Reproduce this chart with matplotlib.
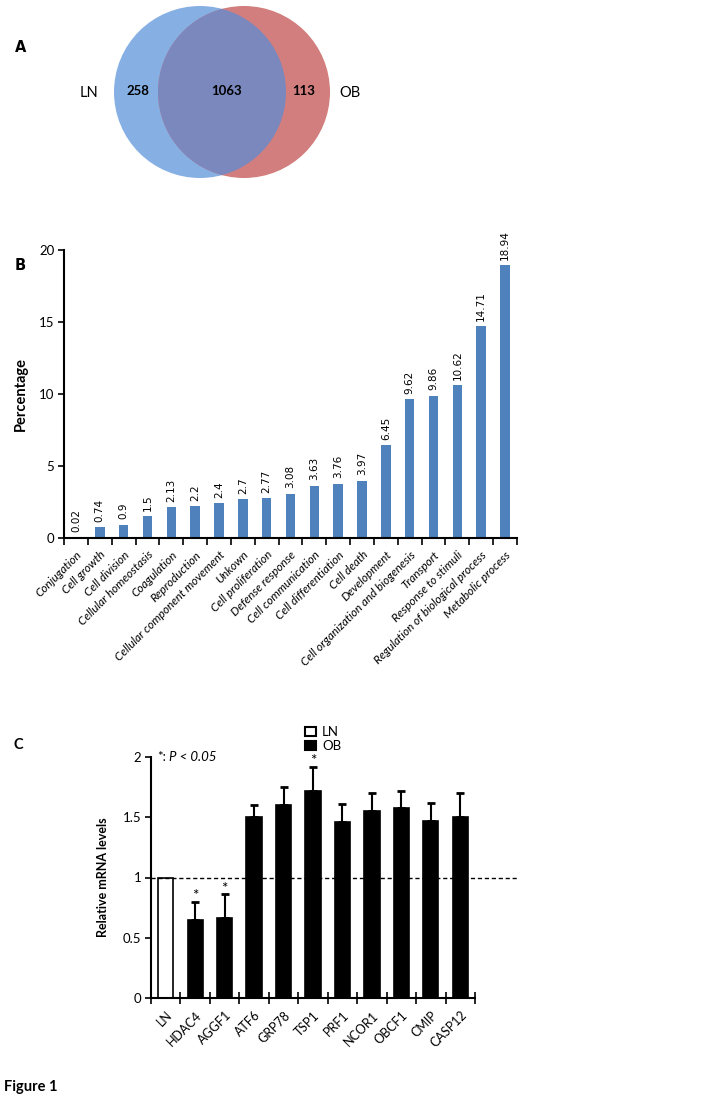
#!/usr/bin/env python3
"""
Figure 1: Venn diagram (A), GO categories (B) and qPCR validation (C)
"""

import numpy as np
import matplotlib
matplotlib.use('Agg')
import matplotlib.pyplot as plt
from matplotlib.patches import Circle, Rectangle

plt.rcParams['font.family'] = ['Lato', 'DejaVu Sans']

W, H = 717, 1102

# ---- data ----
venn_sets = ['LN', 'OB']
venn_counts = [258, 1063, 113]  # LN only, both, OB only

go_categories = ['Conjugation', 'Cell growth', 'Cell division', 'Cellular homeostasis',
                 'Coagulation', 'Reproduction', 'Cellular component movement', 'Unkown',
                 'Cell proliferation', 'Defense response', 'Cell communication',
                 'Cell differentiation', 'Cell death', 'Development',
                 'Cell organization and biogenesis', 'Transport', 'Response to stimuli',
                 'Regulation of biological process', 'Metabolic process']
go_percent = [0.02, 0.74, 0.9, 1.5, 2.13, 2.2, 2.4, 2.7, 2.77, 3.08, 3.63, 3.76,
              3.97, 6.45, 9.62, 9.86, 10.62, 14.71, 18.94]
go_ticks = [0, 5, 10, 15, 20]

genes = ['LN', 'HDAC4', 'AGGF1', 'ATF6', 'GRP78', 'TSP1', 'PRF1', 'NCOR1',
         'OBCF1', 'CMIP', 'CASP12']
mrna_mean = [1.0, 0.65, 0.66, 1.50, 1.60, 1.72, 1.46, 1.55, 1.58, 1.47, 1.50]
mrna_err = [0.0, 0.15, 0.20, 0.10, 0.15, 0.20, 0.15, 0.15, 0.14, 0.15, 0.20]
significant = ['HDAC4', 'AGGF1', 'TSP1']
mrna_ticks = [0, 0.5, 1, 1.5, 2]


def px_axes(fig, left, top, right, bottom):
    return fig.add_axes([left / W, 1 - bottom / H, (right - left) / W, (bottom - top) / H])


fig = plt.figure(figsize=(W / 100, H / 100), dpi=100)

# ---------------- Panel A ----------------
axa = fig.add_axes([0, 0, 1, 1])
axa.set_xlim(0, W)
axa.set_ylim(H, 0)
axa.axis('off')
left_c = Circle((200, 92), 86, color='#86b0e4', lw=0)
right_c = Circle((244, 92), 86, color='#d27e7e', lw=0)
axa.add_patch(left_c)
axa.add_patch(right_c)
# overlap: left circle clipped to the right one
overlap = Circle((200, 92), 86, color='#7a88bd', lw=0)
axa.add_patch(overlap)
overlap.set_clip_path(right_c)
axa.text(21, 47, 'A', fontsize=10.5, fontweight='bold', ha='center', va='center',
         family=['DejaVu Sans'])
axa.text(89, 93, venn_sets[0], fontsize=10.5, ha='center', va='center')
axa.text(350, 93, venn_sets[1], fontsize=10.5, ha='center', va='center')
for x, c in zip([138, 226, 304], venn_counts):
    axa.text(x, 91, str(c), fontsize=9.5, fontweight='bold', ha='center', va='center')
axa.text(20, 266, 'B', fontsize=10.5, fontweight='bold', ha='center', va='center',
         family=['DejaVu Sans'])
axa.text(18, 745, 'C', fontsize=10.5, fontweight='bold', ha='center', va='center')
axa.text(4, 1087, 'Figure 1', fontsize=10.5, fontweight='bold', ha='left', va='center')

# ---------------- Panel B ----------------
axb = px_axes(fig, 64, 250, 517, 538)
n = len(go_categories)
x = np.arange(n)
axb.bar(x, go_percent, width=0.4, color='#4f81bd')
for xi, v in zip(x, go_percent):
    axb.annotate(f'{v:g}', (xi, v), xytext=(0, 4), textcoords='offset points',
                 rotation=90, ha='center', va='bottom', fontsize=7.5,
                 family=['DejaVu Sans'])
axb.set_xlim(-0.5, n - 0.5)
axb.set_ylim(0, 20)
axb.set_yticks(go_ticks)
axb.tick_params(axis='y', direction='out', length=4, width=1.2, labelsize=9.5, pad=3)
axb.set_xticks(x)
axb.set_xticklabels(go_categories, rotation=45, ha='right', rotation_mode='anchor',
                    fontsize=8.5, style='italic')
axb.tick_params(axis='x', length=0, pad=8)
axb.set_xticks(np.arange(n + 1) - 0.5, minor=True)
axb.tick_params(axis='x', which='minor', direction='out', length=5, width=1.2)
for s in ['top', 'right']:
    axb.spines[s].set_visible(False)
for s in ['left', 'bottom']:
    axb.spines[s].set_linewidth(1.5)
axb.set_ylabel('Percentage', fontsize=10.5, fontweight='bold', labelpad=8)

# ---------------- Panel C ----------------
axc = px_axes(fig, 151, 757, 475, 998)
m = len(genes)
xc = np.arange(m)
face = ['white' if g == 'LN' else 'black' for g in genes]
axc.bar(xc, mrna_mean, width=0.52, color=face, edgecolor='black', linewidth=1.2)
axc.errorbar(xc[1:], mrna_mean[1:], yerr=[np.zeros(m - 1), mrna_err[1:]], fmt='none',
             ecolor='black', elinewidth=1.5, capsize=3, capthick=2)
for i, g in enumerate(genes):
    if g in significant:
        axc.text(xc[i], mrna_mean[i] + mrna_err[i] - 0.01, '*', ha='center',
                 va='bottom', fontsize=11)
axc.plot([-0.5, 12.0], [1, 1], ls='--', color='black', lw=1, clip_on=False,
         dashes=(3, 2))
axc.set_xlim(-0.5, m - 0.5)
axc.set_ylim(0, 2)
axc.set_yticks(mrna_ticks)
axc.set_yticklabels([f'{t:g}' for t in mrna_ticks])
axc.tick_params(axis='y', direction='out', length=4, width=1.2, labelsize=9.5, pad=3)
axc.set_xticks(xc)
axc.set_xticklabels(genes, rotation=45, ha='right', rotation_mode='anchor', fontsize=9)
axc.tick_params(axis='x', length=0, pad=8)
axc.set_xticks(np.arange(m + 1) - 0.5, minor=True)
axc.tick_params(axis='x', which='minor', direction='inout', length=8, width=1.2)
for s in ['top', 'right']:
    axc.spines[s].set_visible(False)
for s in ['left', 'bottom']:
    axc.spines[s].set_linewidth(1.5)
axc.set_ylabel('Relative mRNA levels', fontsize=9, fontweight='bold', labelpad=10)
axc.text(0.02, 1.0, '*:', transform=axc.transAxes, fontsize=9.5, ha='left', va='center')
axc.text(0.055, 1.0, 'P < 0.05', transform=axc.transAxes, fontsize=9.5, ha='left',
         va='center', style='italic')

# legend boxes
axa.add_patch(Rectangle((305, 727), 11, 9, facecolor='white', edgecolor='black', lw=1.5))
axa.add_patch(Rectangle((305, 741), 11, 9, facecolor='black', edgecolor='black', lw=1.5))
axa.text(322, 732, 'LN', fontsize=9.5, ha='left', va='center')
axa.text(322, 746, 'OB', fontsize=9.5, ha='left', va='center')

fig.savefig('out.png', dpi=100)
